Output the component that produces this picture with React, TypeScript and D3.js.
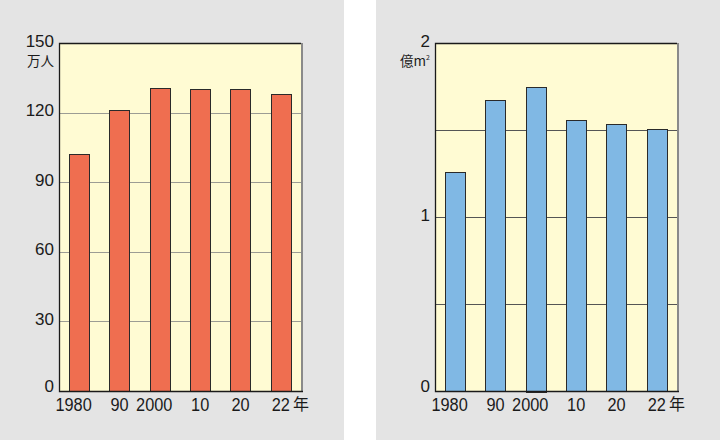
import * as d3 from "d3";

// years on the x axis
const years = ["1980", "90", "2000", "10", "20", "22"];
// left panel: 万人
const leftValues = [102, 121, 130.5, 130, 130, 128.2];
const leftTicks = [0, 30, 60, 90, 120, 150];
// right panel: 億㎡
const rightValues = [1.26, 1.67, 1.75, 1.56, 1.535, 1.505];
const rightTicks = [0, 1, 2];
const rightGrid = [0.5, 1, 1.5];

const W = 720;
const H = 440;
const PANEL_W = 344;
const PLOT = { x0: 59, x1: 301, y0: 43, y1: 391 };
const NUM_FONT = "'Liberation Sans', Arial, sans-serif";
const JP_FONT = "'Noto Sans CJK JP', sans-serif";

type PanelProps = {
  offsetX: number;
  values: number[];
  max: number;
  ticks: number[];
  grid: number[];
  gridColor: string;
  barColor: string;
  unit: React.ReactNode;
};

const Panel = ({ offsetX, values, max, ticks, grid, gridColor, barColor, unit }: PanelProps) => {
  const x = d3
    .scaleBand<string>()
    .domain(years)
    .range([PLOT.x0, PLOT.x1])
    .paddingInner(0.5)
    .paddingOuter(0.25);
  const y = d3.scaleLinear().domain([0, max]).range([PLOT.y1, PLOT.y0]);
  const bw = x.bandwidth();

  return (
    <g transform={`translate(${offsetX},0)`}>
      <rect x={0} y={0} width={PANEL_W} height={H} fill="#e4e4e4" />
      <rect
        x={PLOT.x0}
        y={PLOT.y0}
        width={PLOT.x1 - PLOT.x0}
        height={PLOT.y1 - PLOT.y0}
        fill="#fffbd3"
      />
      {grid.map((g) => (
        <line
          key={g}
          x1={PLOT.x0}
          x2={PLOT.x1}
          y1={Math.round(y(g)) + 0.5}
          y2={Math.round(y(g)) + 0.5}
          stroke={gridColor}
          strokeWidth={1}
        />
      ))}
      {values.map((v, i) => (
        <rect
          key={years[i]}
          x={Math.round(x(years[i])!) + 0.5}
          y={Math.round(y(v)) + 0.5}
          width={Math.round(bw)}
          height={Math.round(PLOT.y1 - y(v))}
          fill={barColor}
          stroke="#2a2a2a"
          strokeWidth={1}
        />
      ))}
      {/* frame */}
      <line x1={PLOT.x1 + 1} x2={PLOT.x1 + 1} y1={PLOT.y0} y2={PLOT.y1} stroke="#8a8a8a" strokeWidth={2} />
      <path
        d={`M${PLOT.x1},${PLOT.y0 + 0.5} H${PLOT.x0 + 0.5} V${PLOT.y1 + 0.5} H${PLOT.x1 + 2}`}
        fill="none"
        stroke="#1a1a1a"
        strokeWidth={1.3}
      />
      {ticks.map((t) => (
        <text
          key={t}
          x={PLOT.x0 - 5}
          y={y(t) + (t === 0 ? 1 : 3.5)}
          textAnchor="end"
          fontFamily={NUM_FONT}
          fontSize={17}
          fill="#1a1a1a"
        >
          {t}
        </text>
      ))}
      <text
        x={PLOT.x0 - 5}
        y={PLOT.y0 + 23}
        textAnchor="end"
        fontFamily={JP_FONT}
        fontSize={13.5}
        fill="#1a1a1a"
      >
        {unit}
      </text>
      {years.map((yr) => {
        const long = yr.length === 4;
        const cx = long ? x(yr)! + bw + 2.5 : x(yr)! + bw / 2;
        return (
          <text
            key={yr}
            transform={`translate(${cx},${PLOT.y1 + 20}) scale(0.86,1)`}
            textAnchor={long ? "end" : "middle"}
            fontFamily={NUM_FONT}
            fontSize={19}
            fill="#1a1a1a"
          >
            {yr}
          </text>
        );
      })}
      <text
        x={x(years[years.length - 1])! + bw + 2}
        y={PLOT.y1 + 19}
        fontFamily={JP_FONT}
        fontSize={16}
        fill="#1a1a1a"
      >
        年
      </text>
    </g>
  );
};

export default function App() {
  return (
    <svg
      width={W}
      height={H}
      style={{ position: "absolute", left: 0, top: 0, display: "block" }}
    >
      <rect x={0} y={0} width={W} height={H} fill="#ffffff" />
      <Panel
        offsetX={0}
        values={leftValues}
        max={150}
        ticks={leftTicks}
        grid={[30, 60, 90, 120]}
        gridColor="#9c9c94"
        barColor="#ef6e50"
        unit="万人"
      />
      <Panel
        offsetX={376}
        values={rightValues}
        max={2}
        ticks={rightTicks}
        grid={rightGrid}
        gridColor="#555555"
        barColor="#80b8e4"
        unit={
          <>
            億m<tspan fontSize={7} dy={-6}>2</tspan>
          </>
        }
      />
    </svg>
  );
}
